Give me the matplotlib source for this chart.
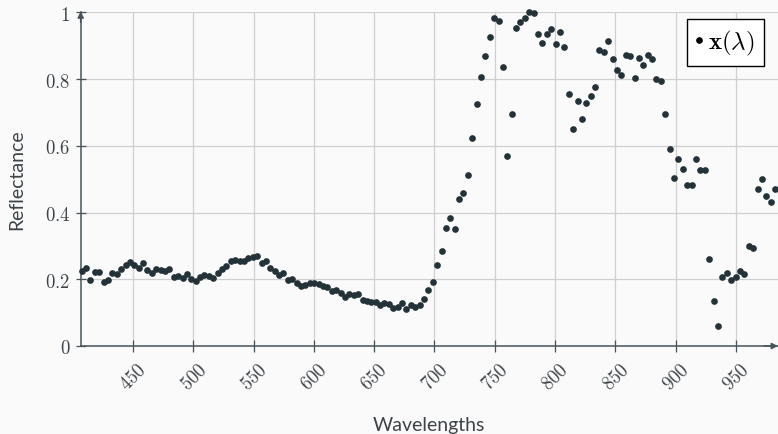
import matplotlib
matplotlib.use("Agg")
import matplotlib.pyplot as plt

# band centres (nm)
wavelengths = [
    407.4, 411.0, 414.7, 418.3, 422.0, 425.6, 429.2, 432.9, 436.5, 440.2,
    443.8, 447.4, 451.1, 454.7, 458.4, 462.0, 465.6, 469.3, 472.9, 476.6,
    480.2, 483.8, 487.5, 491.1, 494.8, 498.4, 502.0, 505.7, 509.3, 513.0,
    516.6, 520.2, 523.9, 527.5, 531.2, 534.8, 538.4, 542.1, 545.7, 549.4,
    553.0, 556.6, 560.3, 563.9, 567.6, 571.2, 574.8, 578.5, 582.1, 585.8,
    589.4, 593.0, 596.7, 600.3, 604.0, 607.6, 611.2, 614.9, 618.5, 622.2,
    625.8, 629.4, 633.1, 636.7, 640.4, 644.0, 647.6, 651.3, 654.9, 658.6,
    662.2, 665.8, 669.5, 673.1, 676.8, 680.4, 684.0, 687.7, 691.3, 695.0,
    698.6, 702.2, 705.9, 709.5, 713.2, 716.8, 720.4, 724.1, 727.7, 731.4,
    735.0, 738.6, 742.3, 745.9, 749.6, 753.2, 756.8, 760.5, 764.1, 767.8,
    771.4, 775.0, 778.7, 782.3, 786.0, 789.6, 793.2, 796.9, 800.5, 804.2,
    807.8, 811.4, 815.1, 818.7, 822.4, 826.0, 829.6, 833.3, 836.9, 840.6,
    844.2, 847.8, 851.5, 855.1, 858.8, 862.4, 866.0, 869.7, 873.3, 877.0,
    880.6, 884.2, 887.9, 891.5, 895.2, 898.8, 902.4, 906.1, 909.7, 913.4,
    917.0, 920.6, 924.3, 927.9, 931.6, 935.2, 938.8, 942.5, 946.1, 949.8,
    953.4, 957.0, 960.7, 964.3, 968.0, 971.6, 975.2, 978.9, 982.5,
]

reflectance = [
    0.226, 0.233, 0.198, 0.223, 0.222, 0.191, 0.198, 0.218, 0.215, 0.231,
    0.242, 0.253, 0.243, 0.235, 0.248, 0.229, 0.219, 0.230, 0.228, 0.224,
    0.231, 0.206, 0.209, 0.204, 0.216, 0.200, 0.194, 0.208, 0.213, 0.209,
    0.204, 0.218, 0.231,
    0.241, 0.254, 0.259, 0.256, 0.254, 0.263, 0.266, 0.271, 0.249, 0.254,
    0.233, 0.225, 0.214, 0.219, 0.199, 0.201, 0.189, 0.180, 0.184, 0.188,
    0.188, 0.186, 0.180, 0.176, 0.164, 0.169, 0.158, 0.147, 0.156, 0.154,
    0.155, 0.138, 0.135,
    0.133, 0.133, 0.123, 0.130, 0.126, 0.115, 0.118, 0.129, 0.111, 0.124,
    0.116, 0.122, 0.142, 0.168, 0.191, 0.244, 0.286, 0.353, 0.384, 0.351,
    0.441, 0.459, 0.513, 0.624, 0.724,
    0.805, 0.870, 0.926, 0.983, 0.974, 0.835, 0.568, 0.696, 0.952, 0.971,
    0.982, 1.002, 0.999, 0.934, 0.908, 0.935, 0.950, 0.906, 0.940, 0.896,
    0.755, 0.650, 0.735, 0.681, 0.727, 0.750, 0.777, 0.887, 0.880, 0.914,
    0.860, 0.828, 0.812, 0.872, 0.869, 0.804, 0.864, 0.842, 0.872, 0.860,
    0.799, 0.793, 0.694, 0.591, 0.504, 0.559, 0.532, 0.482, 0.482, 0.561,
    0.527, 0.527,
    0.261, 0.135, 0.061, 0.206, 0.220, 0.199, 0.208, 0.226, 0.216, 0.299,
    0.294, 0.471, 0.502, 0.449, 0.432, 0.471,
]

xticks = [450, 500, 550, 600, 650, 700, 750, 800, 850, 900, 950]
yticks = [0, 0.2, 0.4, 0.6, 0.8, 1]
ytick_labels = ["0", "0.2", "0.4", "0.6", "0.8", "1"]

bg = "#fafafa"
axis_col = "#46535a"
text_col = "#3c4449"
point_col = "#233238"

plt.rcParams["mathtext.fontset"] = "cm"
plt.rcParams["font.family"] = ["Lato", "DejaVu Sans"]

fig = plt.figure(figsize=(7.78, 4.35), dpi=100, facecolor=bg)
ax = fig.add_axes([0.1037, 0.2023, 0.8963, 0.767], facecolor=bg)

ax.plot(wavelengths, reflectance, linestyle="none", marker="o",
        markersize=3.8, color=point_col, zorder=3, clip_on=False,
        label=r"$\mathbf{x}(\lambda)$")

ax.set_xlim(406.6, 985)
ax.set_ylim(0, 1)
ax.set_xticks(xticks)
ax.set_xticklabels(["$%d$" % t for t in xticks], rotation=45, ha="center")
ax.set_yticks(yticks)
ax.set_yticklabels(["$%s$" % t for t in ytick_labels])

ax.grid(True, color="#cfcfcf", linewidth=0.9)
ax.set_axisbelow(True)

for s in ["top", "right"]:
    ax.spines[s].set_visible(False)
for s in ["left", "bottom"]:
    ax.spines[s].set_color(axis_col)
    ax.spines[s].set_linewidth(1.1)

ax.tick_params(axis="x", direction="inout", length=9, width=0.9,
               color=axis_col, labelsize=13.5, labelcolor=text_col, pad=5)
ax.tick_params(axis="y", direction="inout", length=7, width=0.9,
               color=axis_col, labelsize=13.5, labelcolor=text_col, pad=4)

# arrow heads on the axis lines
ax.annotate("", xy=(1.0, 0), xytext=(0.98, 0), xycoords="axes fraction",
            arrowprops=dict(arrowstyle="-|>", color=axis_col, lw=1.1,
                            mutation_scale=9, shrinkA=0, shrinkB=0))
ax.annotate("", xy=(0, 1.003), xytext=(0, 0.97), xycoords="axes fraction",
            arrowprops=dict(arrowstyle="-|>", color=axis_col, lw=1.1,
                            mutation_scale=9, shrinkA=0, shrinkB=0))

ax.set_xlabel("Wavelengths", fontsize=14, color=text_col, labelpad=17)
ax.set_ylabel("Reflectance", fontsize=14, color=text_col, labelpad=14)

leg = ax.legend(loc="upper right", bbox_to_anchor=(0.9795, 0.98),
                fontsize=18, handlelength=0.25, handletextpad=0.25,
                borderpad=0.35, borderaxespad=0, markerscale=1.0,
                fancybox=False, framealpha=1, edgecolor="black")
leg.get_frame().set_linewidth(1.0)
leg.legend_handles[0].set_color("black")

fig.savefig("out.png", dpi=100, facecolor=bg)
